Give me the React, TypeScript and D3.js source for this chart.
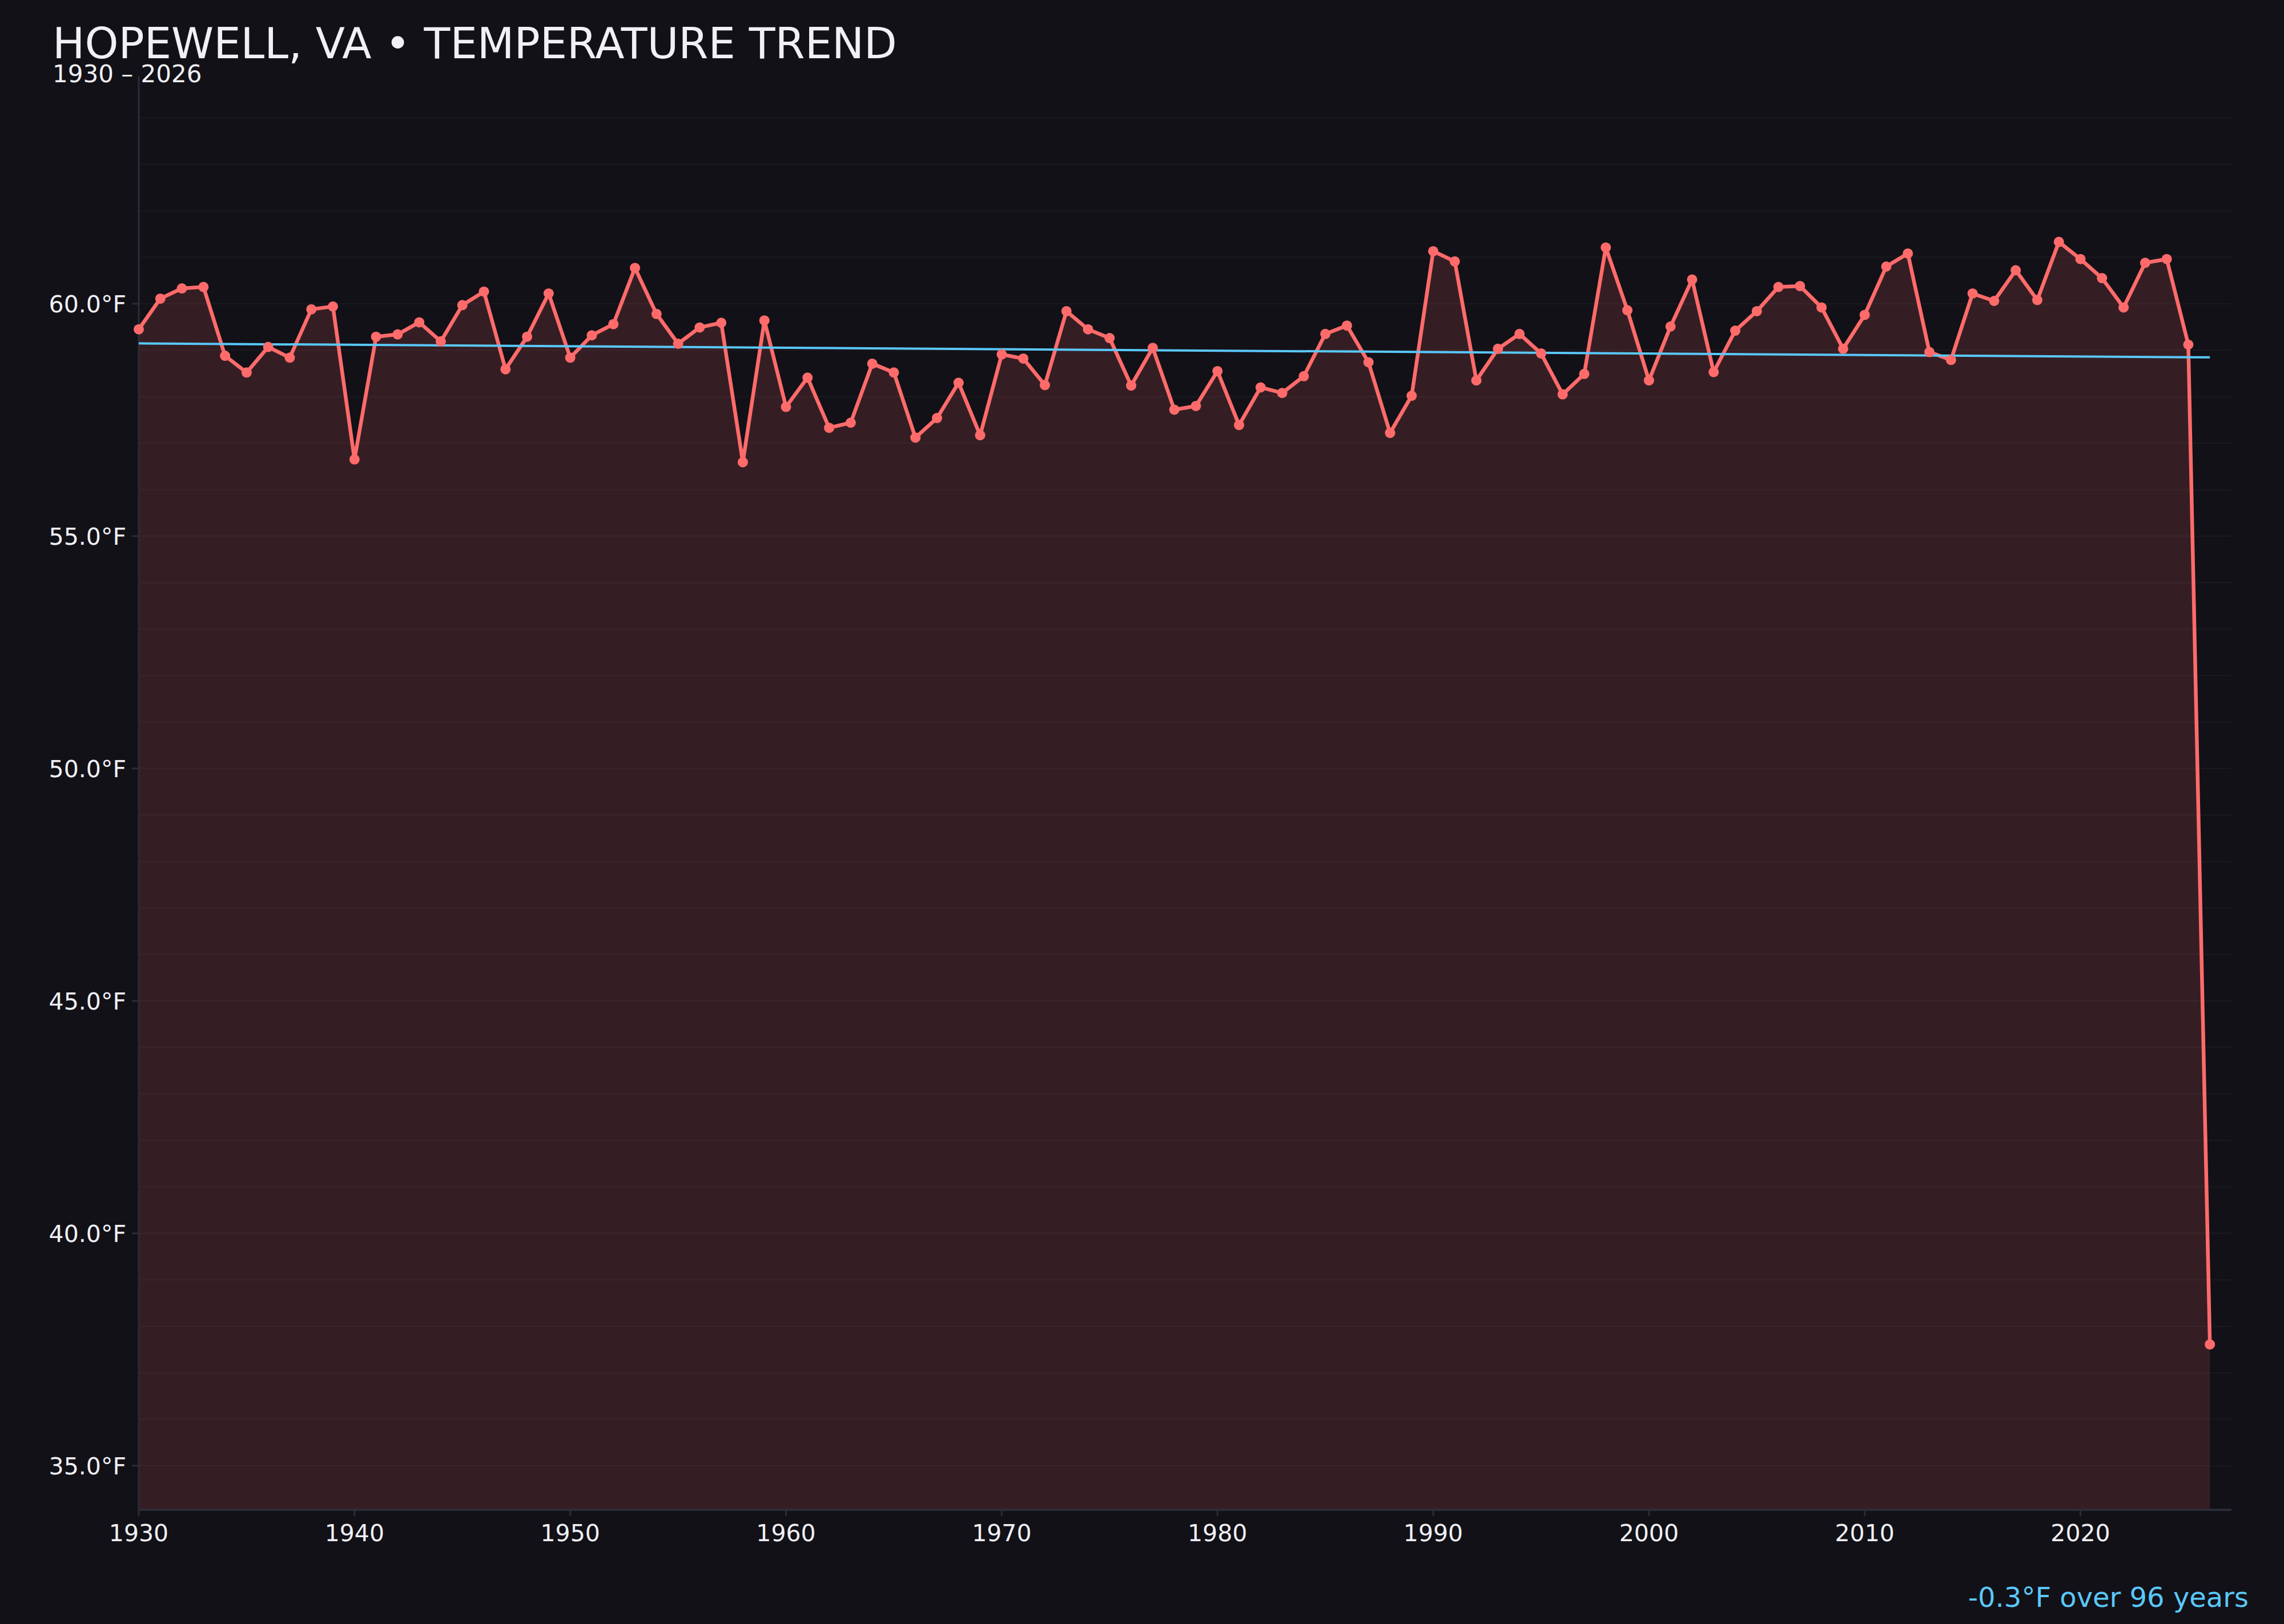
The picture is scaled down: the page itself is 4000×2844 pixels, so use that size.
import React from "react";
import * as d3 from "d3";

const years: number[] = d3.range(1930, 2027);
const temps: number[] = [
  59.45, 60.11, 60.33, 60.36, 58.88, 58.52, 59.07, 58.84, 59.88, 59.94,
  56.65, 59.29, 59.34, 59.6, 59.19, 59.97, 60.26, 58.59, 59.29, 60.22,
  58.84, 59.32, 59.56, 60.77, 59.78, 59.14, 59.49, 59.59, 56.59, 59.64,
  57.78, 58.41, 57.33, 57.44, 58.71, 58.52, 57.12, 57.54, 58.3, 57.17,
  58.91, 58.82, 58.25, 59.84, 59.45, 59.26, 58.24, 59.05, 57.72, 57.8,
  58.55, 57.39, 58.2, 58.08, 58.44, 59.35, 59.53, 58.74, 57.22, 58.02,
  61.13, 60.91, 58.35, 59.03, 59.35, 58.93, 58.05, 58.49, 61.21, 59.86,
  58.35, 59.51, 60.52, 58.53, 59.42, 59.84, 60.36, 60.38, 59.92, 59.03,
  59.76, 60.8, 61.08, 58.96, 58.79, 60.22, 60.06, 60.72, 60.08, 61.33,
  60.96, 60.55, 59.92, 60.88, 60.96, 59.12, 37.61,
];
const xTickYears: number[] = [1930, 1940, 1950, 1960, 1970, 1980, 1990, 2000, 2010, 2020];
const yLabelTicks: number[] = [35, 40, 45, 50, 55, 60];

const TITLE = "HOPEWELL, VA \u2022 TEMPERATURE TREND";
const SUBTITLE = "1930 \u2013 2026";

const W = 4000;
const H = 2844;
const M = { left: 243, right: 3908, top: 134, bottom: 2644 };
const BG = "#121117";
const RED = "#ff6b6b";
const BLUE = "#5ac8fa";
const TEXT = "#f0f0f5";
const AXIS = "#2c2c36";
const FONT = "'DejaVu Sans', sans-serif";

export default function App() {
  const data = years.map((y, i) => ({ year: y, t: temps[i] }));
  const tMin = d3.min(temps) as number;
  const tMax = d3.max(temps) as number;
  const pad = (tMax - tMin) * 0.15;

  const x = d3.scaleLinear().domain([1930, 2027]).range([M.left, M.right]);
  const y = d3.scaleLinear().domain([tMin - pad, tMax + pad]).range([M.bottom, M.top]);

  // linear regression
  const mx = d3.mean(years) as number;
  const my = d3.mean(temps) as number;
  let num = 0;
  let den = 0;
  years.forEach((yr, i) => {
    num += (yr - mx) * (temps[i] - my);
    den += (yr - mx) * (yr - mx);
  });
  const slope = num / den;
  const intercept = my - slope * mx;
  const firstYear = years[0];
  const lastYear = years[years.length - 1];
  const span = lastYear - firstYear;
  const change = slope * span;
  const annotation = `${change >= 0 ? "+" : ""}${change.toFixed(1)}\u00b0F over ${span} years`;

  const gridVals = d3.range(Math.ceil(tMin - pad), Math.floor(tMax + pad) + 1);

  const line = d3
    .line<{ year: number; t: number }>()
    .x((d) => x(d.year))
    .y((d) => y(d.t));
  const area = d3
    .area<{ year: number; t: number }>()
    .x((d) => x(d.year))
    .y0(M.bottom)
    .y1((d) => y(d.t));

  return (
    <svg
      width={W}
      height={H}
      viewBox={`0 0 ${W} ${H}`}
      style={{ position: "absolute", left: 0, top: 0, display: "block" }}
      fontFamily={FONT}
    >
      <rect x={0} y={0} width={W} height={H} fill={BG} />

      {/* gridlines */}
      {gridVals.map((v) => (
        <line
          key={"g" + v}
          x1={M.left}
          x2={M.right}
          y1={y(v)}
          y2={y(v)}
          stroke="#ffffff"
          strokeOpacity={0.03}
          strokeWidth={2.5}
        />
      ))}

      {/* area fill */}
      <path d={area(data) || ""} fill={RED} fillOpacity={0.15} />

      {/* axes */}
      <line x1={M.left} x2={M.left} y1={M.top} y2={M.bottom} stroke={AXIS} strokeWidth={3} />
      <line x1={M.left} x2={M.right} y1={M.bottom} y2={M.bottom} stroke={AXIS} strokeWidth={4} />

      {yLabelTicks.map((v) => (
        <g key={"y" + v}>
          <line x1={M.left - 12} x2={M.left} y1={y(v)} y2={y(v)} stroke={AXIS} strokeWidth={3} />
          <text
            x={M.left - 22}
            y={y(v)}
            dy="0.36em"
            textAnchor="end"
            fontSize={41}
            fill={TEXT}
          >
            {v.toFixed(1)}°F
          </text>
        </g>
      ))}

      {xTickYears.map((v) => (
        <g key={"x" + v}>
          <line x1={x(v)} x2={x(v)} y1={M.bottom} y2={M.bottom + 11} stroke={AXIS} strokeWidth={3} />
          <text x={x(v)} y={M.bottom + 55} textAnchor="middle" fontSize={41} fill={TEXT}>
            {v}
          </text>
        </g>
      ))}

      {/* data line */}
      <path d={line(data) || ""} fill="none" stroke={RED} strokeWidth={6.5} strokeLinejoin="round" />

      {/* trend line */}
      <line
        x1={x(firstYear)}
        x2={x(lastYear)}
        y1={y(intercept + slope * firstYear)}
        y2={y(intercept + slope * lastYear)}
        stroke={BLUE}
        strokeWidth={4}
      />

      {/* points */}
      {data.map((d) => (
        <circle key={"p" + d.year} cx={x(d.year)} cy={y(d.t)} r={9} fill={RED} />
      ))}

      {/* titles */}
      <text x={92} y={102} fontSize={75} fill={TEXT}>
        {TITLE}
      </text>
      <text x={92} y={144} fontSize={42} fill={TEXT}>
        {SUBTITLE}
      </text>

      <text x={3938} y={2814} textAnchor="end" fontSize={48} fill={BLUE}>
        {annotation}
      </text>
    </svg>
  );
}
